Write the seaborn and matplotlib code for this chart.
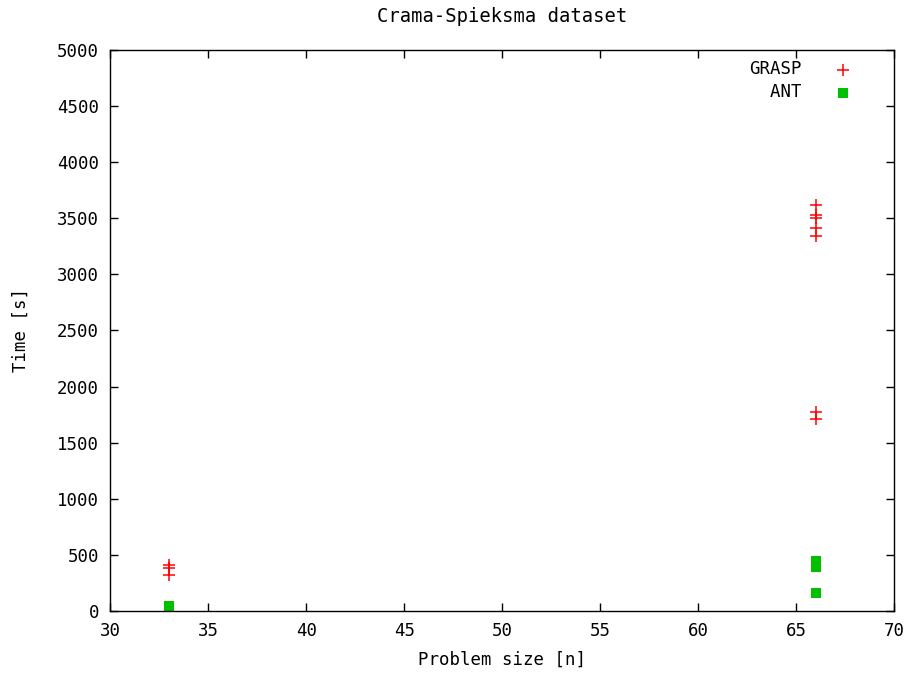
import pandas as pd
import matplotlib
matplotlib.use("Agg")
import matplotlib.pyplot as plt
import seaborn as sns

# values
grasp_size = [33, 33, 33, 66, 66, 66, 66, 66, 66, 66]
grasp_time = [410, 380, 325, 3620, 3530, 3500, 3410, 3340, 1770, 1715]

ant_size = [33, 33, 33, 66, 66, 66]
ant_time = [40, 35, 30, 445, 390, 160]

x_ticks = [30, 35, 40, 45, 50, 55, 60, 65, 70]
y_ticks = [0, 500, 1000, 1500, 2000, 2500, 3000, 3500, 4000, 4500, 5000]

grasp_df = pd.DataFrame({"size": grasp_size, "time": grasp_time})
ant_df = pd.DataFrame({"size": ant_size, "time": ant_time})

sns.set_style("ticks")
plt.rcParams["font.family"] = ["DejaVu Sans Mono"]
plt.rcParams["font.size"] = 12.5
plt.rcParams["text.color"] = "black"
plt.rcParams["axes.labelcolor"] = "black"

fig = plt.figure(figsize=(9.15, 6.8), dpi=100)
ax = fig.add_axes([0.1206, 0.1015, 0.8568, 0.825])

sns.scatterplot(data=grasp_df, x="size", y="time", ax=ax, marker="+",
                color="#ff0000", s=70, linewidth=1.1, label="GRASP")
sns.scatterplot(data=ant_df, x="size", y="time", ax=ax, marker="s",
                color="#00c000", s=55, linewidth=0, label="  ANT")

ax.set_xlim(30, 70)
ax.set_ylim(0, 5000)
ax.set_xticks(x_ticks)
ax.set_yticks(y_ticks)
ax.tick_params(direction="in", length=6, width=1, top=True, right=True,
               pad=8, colors="black")
for sp in ax.spines.values():
    sp.set_visible(True)
    sp.set_linewidth(1)
    sp.set_color("black")

ax.set_title("Crama-Spieksma dataset", pad=20, fontsize=13.6)
ax.set_xlabel("Problem size [n]", labelpad=8)
ax.set_ylabel("Time [s]", labelpad=20)

ax.legend(loc="upper right", bbox_to_anchor=(0.955, 0.994), markerfirst=False,
          frameon=False, handletextpad=1.9, labelspacing=0.3,
          borderaxespad=0.0, handlelength=1.0)

fig.savefig("out.png", dpi=100)
